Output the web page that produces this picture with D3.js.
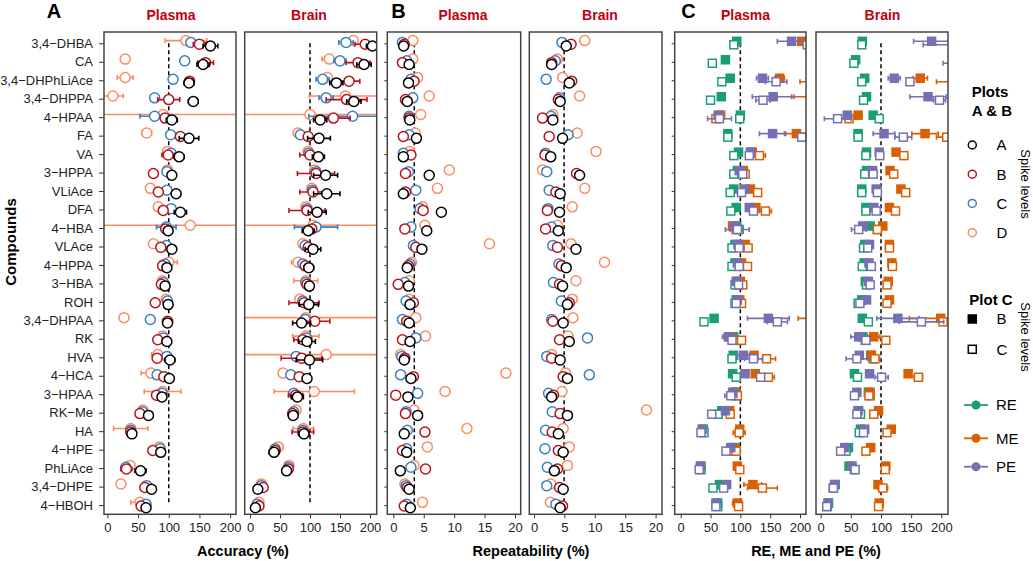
<!DOCTYPE html>
<html><head><meta charset="utf-8">
<script src="https://cdn.jsdelivr.net/npm/d3@7"></script>
<style>body{margin:0;background:#fff}svg text{font-family:"Liberation Sans",Arial,sans-serif}</style>
</head><body><svg id="c" width="1033" height="561"></svg>
<script>
// ---------------- DATA ----------------
const compounds = ["3,4\u2212DHBA","CA","3,4\u2212DHPhLiAce","3,4\u2212DHPPA","4\u2212HPAA","FA","VA","3\u2212HPPA","VLiAce","DFA","4\u2212HBA","VLAce","4\u2212HPPA","3\u2212HBA","ROH","3,4\u2212DHPAA","RK","HVA","4\u2212HCA","3\u2212HPAA","RK\u2212Me","HA","4\u2212HPE","PhLiAce","3,4\u2212DHPE","4\u2212HBOH"];
const spikeLevels = ["A","B","C","D"];
const tissues = ["Plasma","Brain"];
const accTicks = [0,50,100,150,200];
const repTicks = [0,5,10,15,20];
const effTicks = [0,50,100,150,200];

// Panel A: accuracy (%) by spike level, with error half-widths
const accPlasmaA = [168,156,133,140,105,133,117,105,112,119,99,105,97,94,99,98,97,102,101,89,67,40,87,54,72,63];
const accPlasmaB = [150,160,134,100,94,119,99,75,83,91,95,87,90,88,78,98,82,81,92,80,53,38,74,31,61,55];
const accPlasmaC = [136,126,107,77,77,103,104,97,97,104,96,96,94,91,98,70,91,97,81,89,57,38,86,30,64,63];
const accPlasmaD = [128,29,29,9,91,64,98,98,70,83,135,75,100,90,96,27,90,82,71,90,58,38,85,37,22,53];
const accPlasmaErrA = [12,10,8,8,9,16,8,6,7,10,6,5,4,4,4,4,7,8,4,4,4,3,4,9,5,6];
const accPlasmaErrB = [10,13,6,18,6,6,10,4,4,4,4,4,4,4,3,8,4,4,4,4,3,3,4,9,4,4];
const accPlasmaErrC = [5,4,4,5,24,4,4,4,4,4,16,4,3,3,3,3,3,3,3,3,3,3,3,3,3,5];
const accPlasmaErrD = [34,4,13,17,400,8,5,4,6,7,400,4,14,8,4,4,5,10,16,30,4,28,5,5,4,15];

const accBrainA = [204,190,144,173,117,115,114,126,128,112,97,105,98,99,98,86,95,99,95,79,72,90,40,61,13,9];
const accBrainB = [192,180,165,161,139,97,100,110,105,95,103,97,92,95,90,108,88,86,82,76,71,88,42,64,22,15];
const accBrainC = [160,150,121,127,171,84,98,110,104,95,110,92,88,93,88,92,94,77,68,73,73,88,42,64,19,12];
const accBrainD = [172,132,129,159,100,80,97,108,103,93,105,88,80,93,83,93,93,127,55,107,77,89,47,65,19,15];
const accBrainErrA = [10,12,11,12,11,19,10,20,22,15,10,13,8,5,16,15,14,22,4,10,4,9,8,4,3,3];
const accBrainErrB = [17,20,18,34,28,4,17,31,22,30,5,6,6,5,25,25,15,34,4,12,4,18,4,4,3,3];
const accBrainErrC = [12,10,11,12,73,4,4,5,5,5,36,4,4,4,4,4,4,4,4,4,4,4,4,4,3,3];
const accBrainErrD = [6,12,5,60,400,5,5,5,5,5,400,5,11,20,5,400,22,400,4,67,5,17,8,5,3,3];

// Panel B: repeatability (%) by spike level
const repPlasmaA = [1.7,2.6,2.5,2.3,2.7,3.8,1.65,5.9,1.65,7.9,5.5,4.7,2.3,2.5,2.75,2.6,2.75,1.8,2.9,2.4,4.0,1.8,2.2,1.15,2.6,2.8];
const repPlasmaB = [1.8,1.5,3.4,2.0,2.6,1.65,2.9,2.0,2.0,4.9,1.9,3.7,2.5,0.8,3.3,2.2,1.5,1.9,3.3,0.4,2.0,5.2,1.5,5.3,2.3,1.8];
const repPlasmaC = [1.5,2.2,2.9,3.2,2.6,2.6,1.65,2.5,3.7,4.4,2.9,3.3,2.75,1.9,2.1,1.5,3.7,1.4,1.2,4.0,2.1,2.3,2.2,2.9,2.1,2.2];
const repPlasmaD = [3.2,3.2,4.0,5.9,4.5,3.6,2.7,9.2,7.25,4.8,5.2,15.8,3.0,2.6,2.6,3.7,5.3,1.2,18.5,8.5,3.4,12.1,5.6,3.4,1.9,4.8];
const repBrainA = [5.3,2.9,5.8,4.3,3.1,4.7,2.75,7.5,4.3,4.2,4.0,6.9,5.3,4.7,5.5,4.8,5.8,4.3,5.5,2.9,5.5,4.0,4.8,3.35,4.8,4.3];
const repBrainB = [6.1,2.9,6.2,4.0,1.4,2.5,1.8,7.0,3.6,2.2,1.9,3.85,4.5,4.2,5.8,3.1,4.2,2.9,4.8,3.2,4.3,3.0,4.0,3.85,4.2,4.7];
const repBrainC = [4.6,3.5,2.0,4.2,2.8,5.6,1.9,2.1,2.5,2.3,2.85,3.1,4.1,3.2,4.5,2.9,8.8,2.1,9.1,2.4,3.0,1.9,1.8,2.2,2.1,3.6];
const repBrainD = [8.35,3.85,4.7,7.5,3.1,7.1,10.2,1.4,8.35,6.3,3.85,6.1,11.6,6.9,6.3,6.4,5.6,2.9,5.2,4.6,18.5,4.8,5.8,5.5,2.75,2.7];
const repRefPlasma = 3.45;
const repRefBrain = 4.95;

// Panel C: RE, ME, PE (%) at spike levels B (filled) and C (open)
const rePlasmaB = [94,75,83,68,100,79,97,95,89,93,94,91,91,95,93,56,89,88,87,93,69,38,91,34,65,62];
const rePlasmaC = [89,53,69,50,99,79,89,89,83,84,98,86,86,91,91,39,91,86,93,93,63,39,88,34,54,62];
const mePlasmaB = [203,235,166,235,67,194,120,105,117,126,87,108,102,100,99,230,83,123,125,91,82,99,89,95,121,95];
const mePlasmaC = [225,240,225,240,59,204,132,108,129,142,93,113,112,104,102,240,102,144,147,95,83,98,93,99,137,97];
const pePlasmaB = [186,240,137,155,63,154,117,98,107,115,91,96,95,93,95,147,80,105,108,87,75,36,84,33,77,59];
const pePlasmaC = [212,240,160,138,65,203,115,104,102,122,95,98,98,97,93,162,86,122,134,84,52,34,76,31,72,59];
const rePlasmaErrB = [3,3,3,3,3,3,3,3,3,3,3,3,3,3,3,3,3,3,3,3,3,3,3,3,3,3];
const rePlasmaErrC = [3,3,3,3,3,3,3,3,3,3,3,3,3,3,3,3,3,3,3,3,3,3,3,3,3,3];
const mePlasmaErrB = [5,5,8,49,5,20,5,3,3,3,5,3,3,3,3,33,10,5,5,3,3,3,3,3,15,8];
const mePlasmaErrC = [5,5,25,5,5,5,10,3,3,10,10,3,3,3,3,5,3,15,10,3,3,10,3,3,25,5];
const pePlasmaErrB = [24,5,10,35,5,22,3,3,3,3,3,3,3,3,3,35,10,10,3,3,3,3,3,3,3,3];
const pePlasmaErrC = [3,5,18,12,20,5,3,3,3,3,20,3,3,3,3,17,3,15,3,10,3,3,3,3,3,3];

const reBrainB = [69,58,73,76,87,62,76,76,68,75,82,73,72,74,68,69,70,83,56,79,63,66,46,47,24,13];
const reBrainC = [68,55,68,71,97,62,75,73,68,75,94,71,69,76,62,79,74,87,61,82,66,64,42,56,21,11];
const meBrainB = [240,240,165,240,62,173,125,115,133,114,103,114,118,112,114,199,88,84,145,82,96,117,83,108,95,97];
const meBrainC = [240,240,235,240,47,209,138,121,141,124,94,114,119,110,110,203,108,90,162,80,88,110,75,107,103,96];
const peBrainB = [184,240,122,178,44,105,97,86,92,88,70,81,80,79,76,128,63,64,81,60,62,73,40,52,23,12];
const peBrainC = [230,235,148,197,28,137,98,87,94,92,63,78,84,82,65,167,75,60,101,56,60,71,33,57,21,10];
const reBrainErrB = [3,3,3,3,3,3,3,3,3,3,3,3,3,3,3,3,3,3,3,3,3,3,3,3,3,3];
const reBrainErrC = [3,3,3,3,3,3,3,3,3,3,3,3,3,3,3,3,3,3,3,3,3,3,3,3,3,3];
const meBrainErrB = [5,5,12,5,5,22,3,3,3,3,3,3,3,3,3,52,10,5,5,3,3,3,3,3,3,3];
const meBrainErrC = [5,5,43,5,5,17,5,3,3,3,3,3,3,3,3,5,3,8,7,3,3,3,3,3,8,3];
const peBrainErrB = [30,5,10,30,5,18,3,3,3,3,3,3,3,3,3,35,13,3,3,3,3,3,3,3,3,3];
const peBrainErrC = [60,32,5,10,22,14,3,3,3,3,12,3,3,3,3,37,3,18,11,3,3,3,3,3,3,3];

// ---------------- STYLE ----------------
const levelColor = {A:"#000000", B:"#b8141e", C:"#3a80c3", D:"#fc8d62"};
const levelOffset = {A:2.7, B:0.9, C:-0.9, D:-2.7};
const metricColor = {RE:"#1b9e77", ME:"#d95f02", PE:"#7570b3"};
const titleRed = "#c00010";
const FONT = '"Liberation Sans", Arial, sans-serif';

const svg = d3.select("#c");
const TOP = 32, BOTTOM = 514.3;
const y = d3.scaleLinear().domain([0, compounds.length - 1]).range([43.3, 505.05]);

function makePanel(id, box, tickDom, tickRange, ticks, leftTicks){
  const x = d3.scaleLinear().domain(tickDom).range(tickRange);
  svg.append("clipPath").attr("id", id).append("rect")
    .attr("x", box[0]).attr("y", TOP).attr("width", box[1]-box[0]).attr("height", BOTTOM-TOP);
  const g = svg.append("g");
  const plot = g.append("g").attr("clip-path", `url(#${id})`);
  const ax = g.append("g").attr("transform", `translate(0,${BOTTOM})`)
    .call(d3.axisBottom(x).tickValues(ticks).tickSize(4).tickPadding(4));
  ax.select(".domain").remove();
  ax.attr("font-size", 13).attr("font-family", FONT).attr("color", "#333");
  ax.selectAll("text").attr("fill", "#222");
  if (leftTicks) {
    const ay = g.append("g").attr("transform", `translate(${box[0]},0)`)
      .call(d3.axisLeft(y).tickValues(d3.range(compounds.length)).tickSize(leftTicks.size)
        .tickPadding(6).tickFormat(leftTicks.labels ? (i => compounds[i]) : ""));
    ay.select(".domain").remove();
    ay.attr("font-size", 13).attr("font-family", FONT).attr("color", "#333");
    ay.selectAll("text").attr("fill", "#222");
  }
  return {x, g, plot, box};
}
function frame(p){
  p.g.append("rect").attr("x", p.box[0]).attr("y", TOP).attr("width", p.box[1]-p.box[0])
    .attr("height", BOTTOM-TOP).attr("fill", "none").attr("stroke", "#444").attr("stroke-width", 1.5);
}
function refLine(p, v){
  p.plot.append("line").attr("x1", p.x(v)).attr("x2", p.x(v)).attr("y1", y(0)).attr("y2", y(compounds.length-1))
    .attr("stroke", "#000").attr("stroke-width", 1.5).attr("stroke-dasharray", "4,3");
}
function errBars(p, vals, errs, color, off){
  const capH = 2.5;
  vals.forEach((v, i) => {
    const yy = y(i) + off, lo = p.x(v - errs[i]), hi = p.x(v + errs[i]);
    p.plot.append("line").attr("x1", lo).attr("x2", hi).attr("y1", yy).attr("y2", yy)
      .attr("stroke", color).attr("stroke-width", 1.6);
    [lo, hi].forEach(xx => p.plot.append("line").attr("x1", xx).attr("x2", xx)
      .attr("y1", yy - capH).attr("y2", yy + capH).attr("stroke", color).attr("stroke-width", 1.6));
  });
}
function circles(p, vals, color, off){
  p.plot.selectAll(null).data(vals).enter().append("circle")
    .attr("cx", d => p.x(d)).attr("cy", (d, i) => y(i) + off).attr("r", 5)
    .attr("fill", "#fff").attr("stroke", color).attr("stroke-width", 1.5);
}
function squares(p, vals, color, off, filled){
  const s = 8;
  p.plot.selectAll(null).data(vals).enter().append("rect")
    .attr("x", d => p.x(d) - s/2).attr("y", (d, i) => y(i) + off - s/2).attr("width", s).attr("height", s)
    .attr("fill", filled ? color : "#fff").attr("stroke", color).attr("stroke-width", 1.5);
}
function title(text, cx){
  svg.append("text").attr("x", cx).attr("y", 20).attr("text-anchor", "middle")
    .attr("font-size", 14).attr("font-weight", "bold").attr("fill", titleRed).attr("font-family", FONT).text(text);
}
function letter(text, cx){
  svg.append("text").attr("x", cx).attr("y", 17.5).attr("text-anchor", "middle")
    .attr("font-size", 20).attr("font-weight", "bold").attr("fill", "#000").attr("font-family", FONT).text(text);
}

// ---------------- PANEL A ----------------
const accSets = [
  {id:"aP", box:[104,236], range:[107.4,230.1], v:{A:accPlasmaA,B:accPlasmaB,C:accPlasmaC,D:accPlasmaD}, e:{A:accPlasmaErrA,B:accPlasmaErrB,C:accPlasmaErrC,D:accPlasmaErrD}, left:{size:5,labels:true}},
  {id:"aB", box:[244.7,376.7], range:[250,370], v:{A:accBrainA,B:accBrainB,C:accBrainC,D:accBrainD}, e:{A:accBrainErrA,B:accBrainErrB,C:accBrainErrC,D:accBrainErrD}, left:null}
];
accSets.forEach(s => {
  const p = makePanel(s.id, s.box, [0,200], s.range, accTicks, s.left);
  refLine(p, 100);
  ["D","C","B","A"].forEach(l => {
    errBars(p, s.v[l], s.e[l], levelColor[l], levelOffset[l]);
    circles(p, s.v[l], levelColor[l], levelOffset[l]);
  });
  frame(p);
});

// ---------------- PANEL B ----------------
const repSets = [
  {id:"bP", box:[387.3,520.7], range:[393.3,515], v:{A:repPlasmaA,B:repPlasmaB,C:repPlasmaC,D:repPlasmaD}, ref:repRefPlasma, left:{size:3,labels:false}},
  {id:"bB", box:[529.3,662], range:[534,655.6], v:{A:repBrainA,B:repBrainB,C:repBrainC,D:repBrainD}, ref:repRefBrain, left:null}
];
repSets.forEach(s => {
  const p = makePanel(s.id, s.box, [0,20], s.range, repTicks, s.left);
  refLine(p, s.ref);
  ["D","C","B","A"].forEach(l => circles(p, s.v[l], levelColor[l], levelOffset[l]));
  frame(p);
});

// ---------------- PANEL C ----------------
const effSets = [
  {id:"cP", box:[674.7,806], range:[680.7,800], left:{size:3,labels:false},
   series:[["RE",rePlasmaB,rePlasmaErrB,true],["RE",rePlasmaC,rePlasmaErrC,false],
           ["ME",mePlasmaB,mePlasmaErrB,true],["ME",mePlasmaC,mePlasmaErrC,false],
           ["PE",pePlasmaB,pePlasmaErrB,true],["PE",pePlasmaC,pePlasmaErrC,false]]},
  {id:"cB", box:[816,948], range:[820.7,941.3], left:null,
   series:[["RE",reBrainB,reBrainErrB,true],["RE",reBrainC,reBrainErrC,false],
           ["ME",meBrainB,meBrainErrB,true],["ME",meBrainC,meBrainErrC,false],
           ["PE",peBrainB,peBrainErrB,true],["PE",peBrainC,peBrainErrC,false]]}
];
effSets.forEach(s => {
  const p = makePanel(s.id, s.box, [0,200], s.range, effTicks, s.left);
  refLine(p, 100);
  s.series.forEach(([m, vals, errs, filled]) => {
    const off = filled ? -2 : 1.5;
    errBars(p, vals, errs, metricColor[m], off);
    squares(p, vals, metricColor[m], off, filled);
  });
  frame(p);
});

// ---------------- TITLES ----------------
letter("A", 54); letter("B", 398.5); letter("C", 688.5);
title(tissues[0], 171); title(tissues[1], 309);
title(tissues[0], 463); title(tissues[1], 600);
title(tissues[0], 745.5); title(tissues[1], 882.5);

function axisTitle(text, cx){
  svg.append("text").attr("x", cx).attr("y", 556).attr("text-anchor", "middle")
    .attr("font-size", 14.5).attr("font-weight", "bold").attr("font-family", FONT).text(text);
}
axisTitle("Accuracy (%)", 243);
axisTitle("Repeatability (%)", 531);
axisTitle("RE, ME and PE (%)", 816);
svg.append("text").attr("transform", "translate(16,242) rotate(-90)").attr("text-anchor", "middle")
  .attr("font-size", 15).attr("font-weight", "bold").attr("font-family", FONT).text("Compounds");

// ---------------- LEGEND ----------------
const lg = svg.append("g").attr("font-family", FONT);
lg.append("text").attr("x", 990).attr("y", 97).attr("text-anchor", "middle").attr("font-size", 15).attr("font-weight", "bold").text("Plots");
lg.append("text").attr("x", 992).attr("y", 116).attr("text-anchor", "middle").attr("font-size", 15).attr("font-weight", "bold").text("A & B");
const legY = d3.scaleLinear().domain([0, 3]).range([145, 232.7]);
spikeLevels.forEach((l, i) => {
  lg.append("circle").attr("cx", 972.3).attr("cy", legY(i)).attr("r", 4)
    .attr("fill", "#fff").attr("stroke", levelColor[l]).attr("stroke-width", 1.5);
  lg.append("text").attr("x", 996.5).attr("y", legY(i)).attr("dy", "0.36em").attr("font-size", 15).text(l);
});
lg.append("text").attr("transform", "translate(1021,184) rotate(90)").attr("text-anchor", "middle")
  .attr("font-size", 13).text("Spike levels");
lg.append("text").attr("x", 991).attr("y", 305).attr("text-anchor", "middle").attr("font-size", 15).attr("font-weight", "bold").text("Plot C");
[["B", true, 319], ["C", false, 349.3]].forEach(([l, f, yy]) => {
  lg.append("rect").attr("x", 972.3 - 4).attr("y", yy - 4).attr("width", 8).attr("height", 8)
    .attr("fill", f ? "#000" : "#fff").attr("stroke", "#000").attr("stroke-width", 1.5);
  lg.append("text").attr("x", 996.5).attr("y", yy).attr("dy", "0.36em").attr("font-size", 15).text(l);
});
lg.append("text").attr("transform", "translate(1021,337) rotate(90)").attr("text-anchor", "middle")
  .attr("font-size", 13).text("Spike levels");
[["RE", 405], ["ME", 438.3], ["PE", 466.7]].forEach(([m, yy]) => {
  lg.append("line").attr("x1", 964).attr("x2", 988).attr("y1", yy).attr("y2", yy)
    .attr("stroke", metricColor[m]).attr("stroke-width", 1.8);
  lg.append("circle").attr("cx", 976).attr("cy", yy).attr("r", 4.5).attr("fill", metricColor[m]);
  lg.append("text").attr("x", 996).attr("y", yy).attr("dy", "0.36em").attr("font-size", 15).text(m);
});
</script></body></html>
